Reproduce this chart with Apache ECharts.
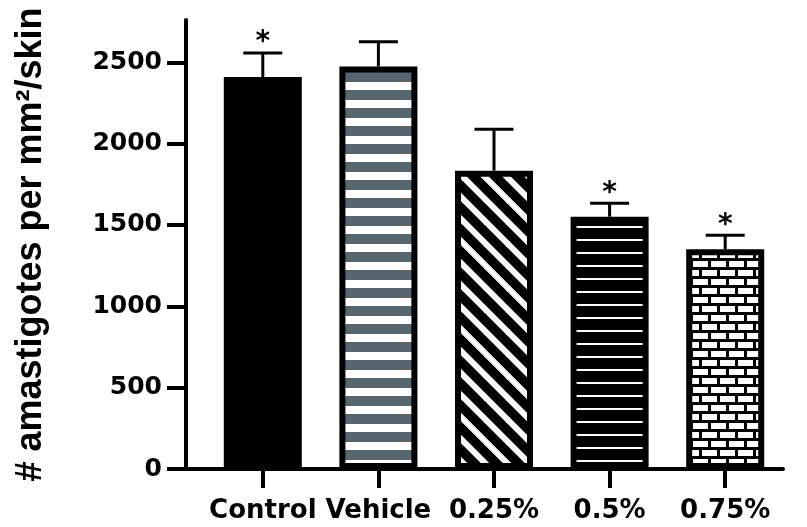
<!DOCTYPE html>
<html>
<head>
<meta charset="utf-8">
<script src="https://cdn.jsdelivr.net/npm/echarts@6.0.0/dist/echarts.min.js"></script>
<style>
html, body { margin: 0; padding: 0; background: #fff; }
#plot { width: 807px; height: 527px; }
</style>
</head>
<body>
<div id="plot"></div>
<script>
// data
const categories = ["Control", "Vehicle", "0.25%", "0.5%", "0.75%"];
const means = [2410, 2474, 1834, 1551, 1351];
const sems = [147, 153, 254, 82, 86];
const significant = [true, false, false, true, true];
const yTicks = [0, 500, 1000, 1500, 2000, 2500];

// small canvas tile -> pattern fill
function tile(w, h, draw) {
  let c = document.createElement("canvas");
  c.width = w;
  c.height = h;
  draw(c.getContext("2d"), w, h);
  return { image: c, repeat: "repeat" };
}

let fills = [
  "#000",
  // grey / white stripes
  tile(10, 18, function (ctx, w, h) {
    ctx.fillStyle = "#fff";
    ctx.fillRect(0, 0, w, h);
    ctx.fillStyle = "#56656e";
    ctx.fillRect(0, 0, w, 10);
  }),
  // diagonal hatch
  tile(22, 22, function (ctx, w, h) {
    ctx.fillStyle = "#000";
    ctx.fillRect(0, 0, w, h);
    ctx.strokeStyle = "#fff";
    ctx.lineWidth = 6;
    for (let k = -1; k <= 1; k++) {
      ctx.beginPath();
      ctx.moveTo(k * w - 8, -8);
      ctx.lineTo(k * w + w + 8, h + 8);
      ctx.stroke();
    }
  }),
  // thin white lines on black
  tile(10, 13, function (ctx, w, h) {
    ctx.fillStyle = "#000";
    ctx.fillRect(0, 0, w, h);
    ctx.fillStyle = "#fff";
    ctx.fillRect(0, 5, w, 2);
  }),
  // bricks
  tile(18, 18, function (ctx, w, h) {
    ctx.fillStyle = "#000";
    ctx.fillRect(0, 0, w, h);
    ctx.fillStyle = "#fff";
    ctx.fillRect(0, 0, 15, 6);
    ctx.fillRect(9, 9, 9, 6);
    ctx.fillRect(0, 9, 6, 6);
  }),
];

function errorBar(params, api) {
  let i = api.value(0);
  let base = api.coord([i, api.value(1)]);
  let top = api.coord([i, api.value(1) + api.value(2)]);
  let style = { stroke: "#000", lineWidth: 3 };
  let children = [
    { type: "line", shape: { x1: base[0], y1: base[1], x2: top[0], y2: top[1] }, style: style },
    { type: "line", shape: { x1: top[0] - 19.5, y1: top[1], x2: top[0] + 19.5, y2: top[1] }, style: style },
  ];
  if (api.value(3)) {
    children.push({
      type: "text",
      style: {
        text: "*",
        x: top[0],
        y: top[1] - 10,
        align: "center",
        verticalAlign: "middle",
        font: "bold 28px 'DejaVu Sans'",
        fill: "#000",
      },
    });
  }
  return { type: "group", children: children };
}

let labelFont = { color: "#000", fontFamily: "DejaVu Sans", fontWeight: "bold" };

let chart = echarts.init(document.getElementById("plot"));
chart.setOption({
  animation: false,
  backgroundColor: "#fff",
  grid: [
    { left: 186, right: 24, top: 20, bottom: 58, outerBoundsMode: "none" },
    { left: 205, right: 24, top: 20, bottom: 58, outerBoundsMode: "none" },
  ],
  xAxis: [
    {
      // only the long base line, starting at the y axis
      gridIndex: 0,
      type: "value",
      min: 0,
      max: 1,
      axisLine: { show: true, onZero: false, lineStyle: { color: "#000", width: 4 } },
      axisTick: { show: false },
      axisLabel: { show: false },
      splitLine: { show: false },
    },
    {
      gridIndex: 1,
      type: "category",
      data: categories,
      axisLine: { show: false },
      axisTick: { show: true, alignWithLabel: true, length: 19, lineStyle: { color: "#000", width: 4 } },
      axisLabel: Object.assign({ interval: 0, margin: 29, fontSize: 26 }, labelFont),
    },
  ],
  yAxis: [
    {
      gridIndex: 0,
      type: "value",
      min: 0,
      max: 2760,
      interval: 500,
      name: "# amastigotes per mm²/skin",
      nameLocation: "middle",
      nameGap: 137,
      nameTextStyle: { color: "#000", fontFamily: "Liberation Sans", fontWeight: "bold", fontSize: 36 },
      axisLine: { show: true, lineStyle: { color: "#000", width: 4 } },
      axisTick: { show: true, length: 19, customValues: yTicks, lineStyle: { color: "#000", width: 4 } },
      axisLabel: Object.assign({
        margin: 24,
        fontSize: 25,
        customValues: yTicks,
        formatter: function (v) { return String(v); },
      }, labelFont),
      splitLine: { show: false },
    },
    { gridIndex: 1, type: "value", min: 0, max: 2760, show: false },
  ],
  series: [
    {
      type: "bar",
      xAxisIndex: 1,
      yAxisIndex: 1,
      barWidth: 78,
      itemStyle: { borderColor: "#000", borderWidth: 6 },
      data: means.map(function (v, i) {
        return { value: v, itemStyle: { color: fills[i] } };
      }),
    },
    {
      type: "custom",
      xAxisIndex: 1,
      yAxisIndex: 1,
      z: 3,
      renderItem: errorBar,
      data: means.map(function (v, i) {
        return [i, v, sems[i], significant[i] ? 1 : 0];
      }),
    },
  ],
});
</script>
</body>
</html>
